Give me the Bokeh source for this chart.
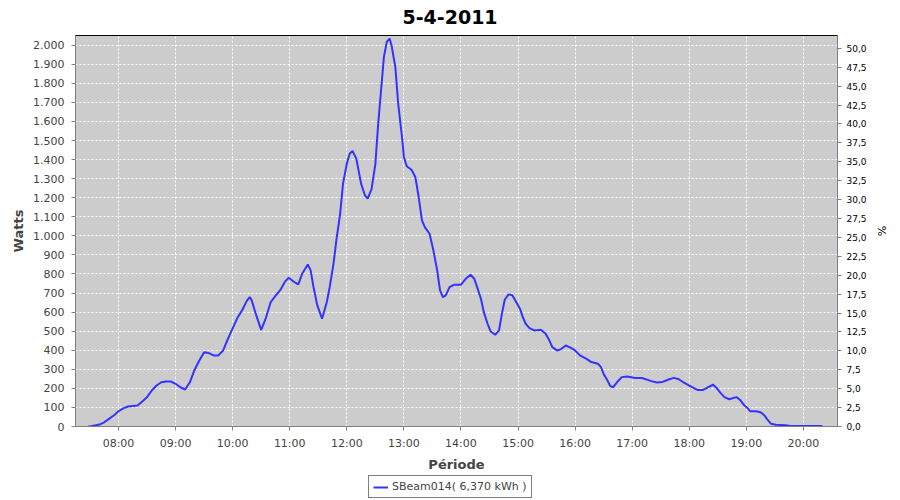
import pandas as pd
from bokeh.plotting import figure
from bokeh.layouts import column
from bokeh.models import (Range1d, LinearAxis, FixedTicker, CustomJSTickFormatter,
                          Legend, LegendItem, ColumnDataSource)
from bokeh.embed import file_html
from bokeh.resources import INLINE

DATE = "2011-04-05"
TITLE = "5-4-2011"
SERIES = "SBeam014( 6,370 kWh )"

times = ["07:28", "07:30", "07:35", "07:40", "07:45", "07:50", "07:55", "08:00", "08:05", "08:10",
         "08:15", "08:20", "08:25", "08:30", "08:35", "08:40", "08:45", "08:50", "08:55", "09:00",
         "09:05", "09:10", "09:15", "09:20", "09:25", "09:30", "09:35", "09:40", "09:45", "09:50",
         "09:55", "10:00", "10:05", "10:10", "10:15", "10:18", "10:20", "10:25", "10:30", "10:35",
         "10:40", "10:45", "10:50", "10:55", "10:59", "11:05", "11:09", "11:13", "11:19", "11:22",
         "11:25", "11:29", "11:34", "11:39", "11:42", "11:46", "11:49", "11:53", "11:56", "12:00",
         "12:03", "12:06", "12:10", "12:15", "12:19", "12:22", "12:26", "12:30", "12:33", "12:36",
         "12:39", "12:42", "12:45", "12:47", "12:51", "12:54", "12:58", "13:00", "13:03", "13:08",
         "13:12", "13:15", "13:19", "13:22", "13:27", "13:31", "13:35", "13:38", "13:41", "13:44",
         "13:48", "13:53", "14:00", "14:05", "14:10", "14:14", "14:17", "14:21", "14:24", "14:28",
         "14:31", "14:36", "14:40", "14:43", "14:46", "14:50", "14:54", "14:58", "15:02", "15:05",
         "15:08", "15:12", "15:17", "15:24", "15:29", "15:33", "15:36", "15:41", "15:45", "15:50",
         "15:55", "16:00", "16:05", "16:12", "16:17", "16:24", "16:27", "16:30", "16:34", "16:37",
         "16:40", "16:44", "16:49", "16:55", "17:03", "17:10", "17:15", "17:20", "17:26", "17:32",
         "17:39", "17:44", "17:49", "17:54", "18:00", "18:05", "18:09", "18:14", "18:18", "18:25",
         "18:28", "18:33", "18:37", "18:42", "18:46", "18:50", "18:54", "18:58", "19:02", "19:04",
         "19:10", "19:15", "19:19", "19:22", "19:26", "19:31", "19:41", "19:45", "19:59", "20:20"]

watts = [0, 0, 5, 10, 22, 40, 58, 80, 95, 105,
         108, 110, 131, 154, 189, 215, 232, 236, 236, 224,
         206, 194, 232, 298, 346, 390, 385, 373, 373, 399,
         460, 515, 570, 610, 660, 679, 662, 580, 507, 570,
         653, 685, 715, 760, 780, 757, 745, 801, 850, 819,
         731, 635, 565, 653, 731, 853, 976, 1116, 1274, 1379,
         1431, 1445, 1405, 1274, 1213, 1195, 1245, 1375, 1589, 1764,
         1939, 2017, 2035, 2000, 1886, 1694, 1519, 1414, 1365, 1347,
         1309, 1221, 1081, 1046, 1011, 924, 819, 714, 679, 688,
         731, 744, 744, 775, 796, 775, 731, 670, 600, 539,
         500, 481, 504, 591, 665, 693, 688, 653, 618, 574,
         539, 516, 504, 508, 487, 451, 416, 399, 405, 425,
         414, 399, 373, 355, 338, 329, 313, 276, 241, 212,
         206, 232, 259, 262, 254, 254, 247, 238, 231, 234,
         248, 255, 248, 231, 215, 201, 191, 191, 201, 219,
         206, 175, 154, 143, 149, 154, 136, 110, 93, 80,
         80, 75, 58, 37, 14, 9, 7, 4, 3, 3]

hour_ticks = ["08:00", "09:00", "10:00", "11:00", "12:00", "13:00", "14:00",
              "15:00", "16:00", "17:00", "18:00", "19:00", "20:00"]
watt_ticks = [0, 100, 200, 300, 400, 500, 600, 700, 800, 900, 1000, 1100, 1200,
              1300, 1400, 1500, 1600, 1700, 1800, 1900, 2000]
pct_ticks = [0, 2.5, 5, 7.5, 10, 12.5, 15, 17.5, 20, 22.5, 25, 27.5, 30, 32.5,
             35, 37.5, 40, 42.5, 45, 47.5, 50]

x_start, x_end = "07:14:48", "20:35:48"
w_max, pct_max = 2051, 51.7


def ts(t):
    return pd.Timestamp(f"{DATE} {t}")


src = ColumnDataSource(dict(x=[ts(t) for t in times], w=watts))

FONT = "DejaVu Sans"
GREY_TXT = "#444444"
LINE_COLOR = "#3333FF"
W = 892

p = figure(width=W, height=474, x_axis_type="datetime", output_backend="svg",
           toolbar_location=None,
           x_range=Range1d(ts(x_start), ts(x_end)), y_range=Range1d(0, w_max),
           min_border_left=75, min_border_right=W - 837, min_border_top=35,
           min_border_bottom=44)

p.title.text = TITLE
p.title.align = "left"
p.title.offset = 327
p.title.vertical_align = "top"
p.title.text_font = FONT
p.title.text_font_size = "19px"
p.title.text_font_style = "bold"
p.title.text_color = "#000000"
p.title.standoff = 19
p.title.text_line_height = 0.8

p.background_fill_color = "#CCCCCC"
p.border_fill_color = "white"
p.outline_line_color = "black"
p.outline_line_width = 1

r = p.line("x", "w", source=src, line_color=LINE_COLOR, line_width=2)

# x axis
xa = p.xaxis[0]
xa.ticker = FixedTicker(ticks=[ts(h).value // 10**6 for h in hour_ticks])
xa.formatter = CustomJSTickFormatter(code="""
    const d = new Date(tick);
    const h = String(d.getUTCHours()).padStart(2, '0');
    const m = String(d.getUTCMinutes()).padStart(2, '0');
    return h + ':' + m;
""")
xa.axis_label = "Période"

# left axis
ya = p.yaxis[0]
ya.ticker = FixedTicker(ticks=watt_ticks)
ya.formatter = CustomJSTickFormatter(code="""
    return Math.round(tick).toString().replace(/\\B(?=(\\d{3})+(?!\\d))/g, '.');
""")
ya.axis_label = "Watts"

# right axis
p.extra_y_ranges = {"pct": Range1d(0, pct_max)}
ra = LinearAxis(y_range_name="pct", axis_label="%")
ra.ticker = FixedTicker(ticks=pct_ticks)
ra.formatter = CustomJSTickFormatter(code="return tick.toFixed(1).replace('.', ',');")
p.add_layout(ra, "right")

for ax in (xa, ya, ra):
    ax.axis_line_color = "#808080"
    ax.major_tick_line_color = "#808080"
    ax.major_tick_in = 0
    ax.major_tick_out = 4
    ax.minor_tick_line_color = None
    ax.major_label_text_font = FONT
    ax.major_label_text_color = GREY_TXT
    ax.axis_label_text_font = FONT
    ax.axis_label_text_font_style = "bold"
    ax.axis_label_text_color = GREY_TXT
    ax.axis_label_text_font_size = "13px"
    ax.axis_label_standoff = 4

xa.major_label_text_font_size = "11px"
xa.major_label_standoff = 6
ya.major_label_text_font_size = "11px"
ya.major_label_standoff = 7
ra.major_label_text_font_size = "9px"
ra.major_label_text_color = "#000000"
ra.major_label_standoff = 5
ra.axis_label_text_font_style = "normal"
ra.axis_label_text_font_size = "11px"
ra.axis_label_text_color = "#000000"
ra.axis_label_standoff = 5

# grids
for g in (p.xgrid[0], p.ygrid[0]):
    g.grid_line_color = "white"
    g.grid_line_dash = "2 2"
    g.grid_line_width = 1
p.xgrid[0].ticker = xa.ticker
p.ygrid[0].ticker = ya.ticker

# legend strip below the chart (its line uses the same data, outside its view)
lg = figure(width=W, height=26, output_backend="svg", toolbar_location=None,
            x_range=Range1d(0, 1), y_range=Range1d(-1, 0),
            min_border=0, min_border_left=0, min_border_right=0,
            min_border_top=0, min_border_bottom=0)
lg.axis.visible = False
lg.grid.visible = False
lg.outline_line_color = None
lg.background_fill_color = "white"
lg.border_fill_color = "white"
lr = lg.line("x", "w", source=src, line_color=LINE_COLOR, line_width=2)

legend = Legend(items=[LegendItem(label=SERIES, renderers=[lr])],
                location=(293, 2), orientation="horizontal")
legend.border_line_color = "black"
legend.border_line_width = 1
legend.background_fill_color = "white"
legend.background_fill_alpha = 1
legend.label_text_font = FONT
legend.label_text_font_size = "11px"
legend.label_text_color = GREY_TXT
legend.glyph_width = 15
legend.glyph_height = 12
legend.label_standoff = 4
legend.padding = 4
legend.margin = 0
legend.spacing = 0
legend.label_height = 12
lg.add_layout(legend, "center")

layout = column(p, lg, spacing=0)

open("out.html", "w").write(file_html(layout, INLINE))
